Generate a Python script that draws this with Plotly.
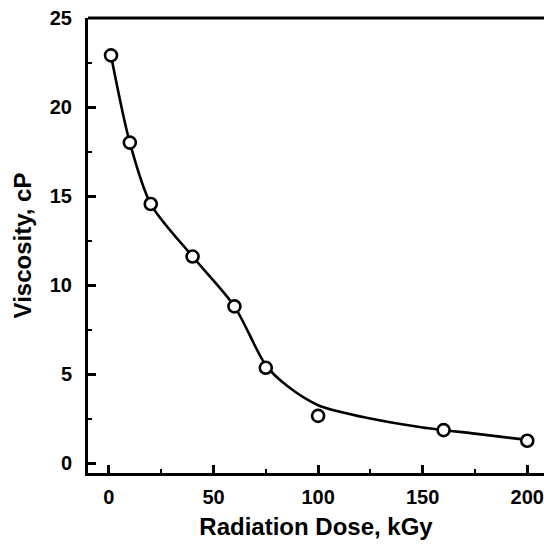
import plotly.graph_objects as go

# Measured data points
dose = [1, 10, 20, 40, 60, 75, 100, 160, 200]
viscosity = [22.9, 18.0, 14.55, 11.6, 8.8, 5.35, 2.65, 1.85, 1.25]

# Smooth fitted curve
curve_dose = [1, 10, 20, 40, 60, 75, 85, 100, 125, 150, 175, 200]
curve_visc = [22.9, 18.0, 14.55, 11.6, 8.8, 5.5, 4.35, 3.25, 2.5, 2.0, 1.65, 1.3]

x_ticks = [0, 50, 100, 150, 200]
y_ticks = [0, 5, 10, 15, 20, 25]

font_main = dict(family="Liberation Sans, Arial, sans-serif", size=20, color="black", weight="bold")

fig = go.Figure()
fig.add_trace(go.Scatter(
    x=curve_dose, y=curve_visc, mode="lines",
    line=dict(color="black", width=2.6, shape="spline", smoothing=0.8),
    hoverinfo="skip", showlegend=False,
))
fig.add_trace(go.Scatter(
    x=dose, y=viscosity, mode="markers",
    marker=dict(symbol="circle", size=12, color="white",
                line=dict(color="black", width=2.6)),
    showlegend=False,
))

fig.update_layout(
    width=544, height=544,
    margin=dict(l=88, r=0, t=18, b=71),
    paper_bgcolor="white", plot_bgcolor="white",
    font=font_main,
    shapes=[dict(type="line", xref="paper", yref="paper", x0=0, x1=1, y0=1, y1=1,
                 line=dict(color="black", width=3))],
)
fig.update_xaxes(
    range=[-10, 208], tickvals=x_ticks, ticktext=[str(v) for v in x_ticks],
    ticks="inside", ticklen=8, tickwidth=2.5, tickcolor="black",
    minor=dict(tickvals=[25, 75, 125, 175], ticks="inside", ticklen=4, tickwidth=2, tickcolor="black"),
    showline=True, linecolor="black", linewidth=3, mirror=False,
    showgrid=False, zeroline=False,
    tickfont=dict(size=20), ticklabelstandoff=4,
    title=dict(text="Radiation Dose, kGy", font=dict(size=24), standoff=12),
)
fig.update_yaxes(
    range=[-0.56, 25], tickvals=y_ticks, ticktext=[str(v) for v in y_ticks],
    ticks="inside", ticklen=8, tickwidth=2.5, tickcolor="black",
    minor=dict(tickvals=[2.5, 7.5, 12.5, 17.5, 22.5], ticks="inside", ticklen=4, tickwidth=2, tickcolor="black"),
    showline=True, linecolor="black", linewidth=3, mirror=False,
    showgrid=False, zeroline=False,
    tickfont=dict(size=20), ticklabelstandoff=9,
    title=dict(text="Viscosity, cP", font=dict(size=24), standoff=12),
)

fig.write_html("out.html")
